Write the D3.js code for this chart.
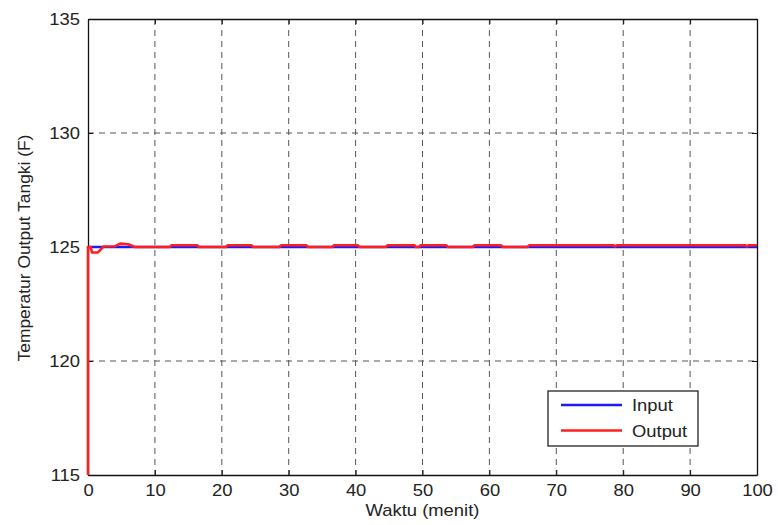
<!DOCTYPE html>
<html>
<head>
<meta charset="utf-8">
<script src="https://cdn.jsdelivr.net/npm/d3@7"></script>
<style>
    body { margin: 0; background: #fff; }
    text { font-family: Arial, "Liberation Sans", sans-serif; fill: #222; }
    .grid line { stroke: #555; stroke-dasharray: 6,5; stroke-width: 1; }
</style>
</head>
<body>
<div id="chart"></div>
<script>
// data
var xTicks = [0, 10, 20, 30, 40, 50, 60, 70, 80, 90, 100];
var yTicks = [115, 120, 125, 130, 135];

// input (setpoint) series
var inputT = [0, 100];
var inputY = [125, 125];

// output series (time in minutes, temperature in F)
var outputT = [0, 0, 0.4, 0.6, 1.5, 2.3, 4.0, 4.8, 6.0, 7.0,
    12.2, 12.5, 16.3, 16.6, 20.6, 20.9, 24.4, 24.7, 28.6, 28.9,
    32.6, 32.9, 36.5, 36.8, 40.3, 40.6, 44.5, 44.8, 48.8, 49.0,
    49.5, 49.7, 53.5, 53.8, 57.5, 57.8, 61.7, 62.0, 65.7, 66.0,
    78.5, 78.8, 79.1, 98.2, 98.5, 98.8, 100];
var outputY = [115, 125, 125, 124.76, 124.76, 125.02, 125.03, 125.15, 125.12, 125.0,
    125.0, 125.08, 125.08, 125.0, 125.0, 125.08, 125.08, 125.0, 125.0, 125.08,
    125.08, 125.0, 125.0, 125.08, 125.08, 125.0, 125.0, 125.08, 125.08, 125.0,
    125.0, 125.08, 125.08, 125.0, 125.0, 125.08, 125.08, 125.0, 125.0, 125.08,
    125.08, 125.03, 125.08, 125.08, 125.03, 125.08, 125.08];

var legendNames = ['Input', 'Output'];
var colors = ['#1a1aff', '#ff1f1f'];

var margin = { top: 19, left: 88, bottom: 50, right: 21 },
    width = 778 - margin.left - margin.right,
    height = 525 - margin.top - margin.bottom;

var svg = d3.select('#chart').append('svg')
    .attr('width', 778)
    .attr('height', 525)
    .append('g')
    .attr('transform', 'translate(' + margin.left + ',' + margin.top + ')');

var x = d3.scaleLinear().domain([0, 100]).range([0, width]);
var y = d3.scaleLinear().domain([115, 135]).range([height, 0]);

// grid
svg.append('g')
    .attr('class', 'grid')
    .selectAll('line')
    .data(xTicks.slice(1, -1))
    .enter().append('line')
    .attr('x1', d => x(d)).attr('x2', d => x(d))
    .attr('y1', 0).attr('y2', height);

svg.append('g')
    .attr('class', 'grid')
    .selectAll('line')
    .data(yTicks.slice(1, -1))
    .enter().append('line')
    .attr('x1', 0).attr('x2', width)
    .attr('y1', d => y(d)).attr('y2', d => y(d));

// axes, MATLAB style ticks inside
var stretch = 'scale(1.15,1)';

var xAxis = d3.axisBottom(x).tickValues(xTicks).tickSizeInner(-5).tickSizeOuter(0).tickPadding(10);
var gx = svg.append('g')
    .attr('transform', 'translate(0,' + height + ')')
    .call(xAxis);
gx.selectAll('text').style('font-size', '16px').attr('transform', stretch);

var yAxis = d3.axisLeft(y).tickValues(yTicks).tickSizeInner(-5).tickSizeOuter(0).tickPadding(7);
var gy = svg.append('g').call(yAxis);
gy.selectAll('text').style('font-size', '16px').attr('transform', stretch);

svg.append('g')
    .call(d3.axisTop(x).tickValues(xTicks).tickSizeInner(-5).tickSizeOuter(0).tickFormat(''));
svg.append('g')
    .attr('transform', 'translate(' + width + ',0)')
    .call(d3.axisRight(y).tickValues(yTicks).tickSizeInner(-5).tickSizeOuter(0).tickFormat(''));

svg.selectAll('.domain').attr('stroke', '#111').attr('stroke-width', 1.3);
svg.selectAll('.tick line').attr('stroke', '#111');

// series
var line = d3.line()
    .x(d => x(d[0]))
    .y(d => y(d[1]));

svg.append('defs').append('clipPath').attr('id', 'clip')
    .append('rect').attr('x', -2).attr('y', 0).attr('width', width + 2).attr('height', height);

var series = [d3.zip(inputT, inputY), d3.zip(outputT, outputY)];

svg.append('g')
    .attr('clip-path', 'url(#clip)')
    .selectAll('path')
    .data(series)
    .enter().append('path')
    .attr('d', line)
    .attr('fill', 'none')
    .attr('stroke', (d, i) => colors[i])
    .attr('stroke-width', 2.6)
    .attr('stroke-linejoin', 'round');

// axis titles
svg.append('text')
    .attr('transform', 'translate(' + (width / 2) + ',' + (height + 41) + ') ' + stretch)
    .attr('text-anchor', 'middle')
    .style('font-size', '16px')
    .text('Waktu (menit)');

svg.append('text')
    .attr('transform', 'translate(-58,' + (height / 2 + 1) + ') rotate(-90) scale(1.16,1.12)')
    .attr('text-anchor', 'middle')
    .style('font-size', '15px')
    .text('Temperatur Output Tangki (F)');

// legend
var legend = svg.append('g')
    .attr('transform', 'translate(' + (548 - margin.left) + ',' + (391 - margin.top) + ')');

legend.append('rect')
    .attr('width', 150)
    .attr('height', 55)
    .attr('fill', '#fff')
    .attr('stroke', '#111')
    .attr('stroke-width', 1.2);

var items = legend.selectAll('.item')
    .data(legendNames)
    .enter().append('g')
    .attr('class', 'item')
    .attr('transform', (d, i) => 'translate(0,' + (14 + i * 25.5) + ')');

items.append('line')
    .attr('x1', 13).attr('x2', 74)
    .attr('stroke', (d, i) => colors[i])
    .attr('stroke-width', 2.6);

items.append('text')
    .attr('transform', 'translate(84,6) ' + stretch)
    .style('font-size', '16px')
    .text(d => d);
</script>
</body>
</html>
